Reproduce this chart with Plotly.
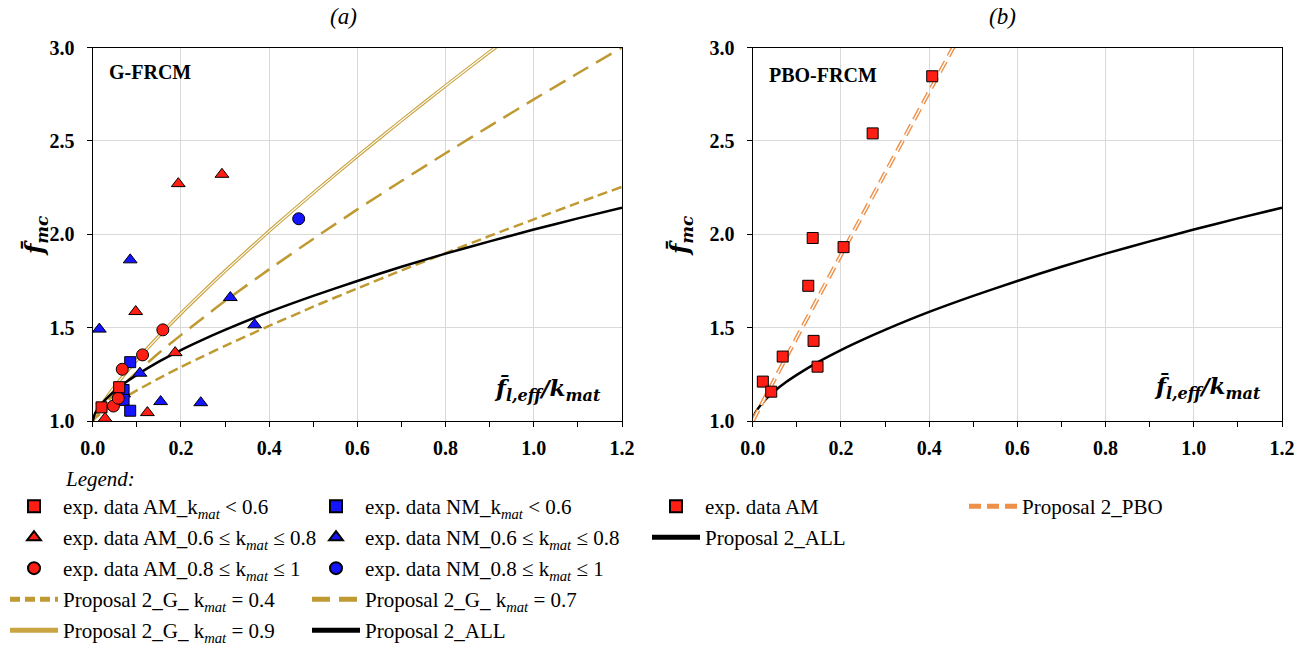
import plotly.graph_objects as go

W, H = 1312, 646

# ---------------- data ----------------
# Panel (a) G-FRCM experimental data
AM_SQ_X = [0.020, 0.060]
AM_SQ_Y = [1.073, 1.181]
AM_TRI_X = [0.194, 0.293, 0.0975, 0.187, 0.124, 0.028]
AM_TRI_Y = [2.271, 2.321, 1.586, 1.366, 1.045, 1.014]
AM_CIR_X = [0.159, 0.113, 0.067, 0.047, 0.058]
AM_CIR_Y = [1.488, 1.354, 1.277, 1.080, 1.122]
NM_SQ_X = [0.085, 0.070, 0.070, 0.085]
NM_SQ_Y = [1.315, 1.166, 1.113, 1.055]
NM_TRI_X = [0.015, 0.085, 0.107, 0.312, 0.367, 0.154, 0.245, 0.070]
NM_TRI_Y = [1.492, 1.863, 1.256, 1.661, 1.515, 1.104, 1.098, 1.145]
NM_CIR_X = [0.467]
NM_CIR_Y = [2.083]

# Model curves
CURVE_X = [0, 0.005, 0.01, 0.02, 0.035, 0.05, 0.075, 0.1, 0.15, 0.2, 0.25, 0.3,
           0.4, 0.5, 0.6, 0.7, 0.8, 0.9, 1.0, 1.1, 1.2]
ALL_Y = [1.0, 1.039, 1.059, 1.091, 1.129, 1.161, 1.207, 1.247, 1.318, 1.380, 1.436,
         1.488, 1.584, 1.670, 1.750, 1.826, 1.896, 1.962, 2.025, 2.085, 2.142]
G04_Y = [1.0, 1.014, 1.025, 1.044, 1.069, 1.093, 1.129, 1.164, 1.228, 1.289, 1.346,
         1.402, 1.509, 1.612, 1.710, 1.806, 1.899, 1.991, 2.080, 2.168, 2.254]
G07_Y = [1.0, 1.022, 1.039, 1.070, 1.110, 1.148, 1.206, 1.261, 1.364, 1.460, 1.552,
         1.642, 1.812, 1.975, 2.133, 2.285, 2.434, 2.579, 2.722, 2.862, 3.000]
G09_Y = [1.0, 1.028, 1.049, 1.087, 1.138, 1.185, 1.258, 1.326, 1.455, 1.576, 1.691,
         1.803, 2.017, 2.221, 2.418, 2.609, 2.795, 2.977, 3.155, 3.330, 3.503]

# Panel (b) PBO-FRCM
PBO_X = [0.023, 0.042, 0.068, 0.126, 0.136, 0.138, 0.147, 0.206, 0.272, 0.407]
PBO_Y = [1.211, 1.157, 1.345, 1.724, 1.980, 1.429, 1.291, 1.931, 2.540, 2.846]
PBO_CURVE_X = [0, 0.05, 0.1, 0.15, 0.2, 0.25, 0.3, 0.35, 0.4, 0.45, 0.5]
PBO_CURVE_Y = [1.0, 1.225, 1.447, 1.668, 1.888, 2.107, 2.326, 2.544, 2.762, 2.980, 3.197]

X_TICKS = [0.0, 0.2, 0.4, 0.6, 0.8, 1.0, 1.2]
Y_TICKS = [1.0, 1.5, 2.0, 2.5, 3.0]

# ---------------- styles ----------------
RED = "#FF1E14"
BLUE = "#1414FF"
GOLD = "#BF9A32"
GOLD2 = "#C9A441"
ORANGE = "#EE9048"
SERIF = "Liberation Serif"
MATH = "DejaVu Serif"
KM = "k<sub><i>mat</i></sub>"


def px_x(p):
    return p / W


def px_y(p):
    return 1 - p / H


fig = go.Figure()


def marker_trace(x, y, sym, color, name, legend, rank, xa="x", ya="y", size=11):
    fig.add_trace(go.Scatter(
        x=x, y=y, mode="markers", name=name, legend=legend, legendrank=rank,
        legendgroup=name + legend, xaxis=xa, yaxis=ya, cliponaxis=False,
        marker=dict(symbol=sym, size=size, color=color, line=dict(color="black", width=1)),
        hoverinfo="skip"))


def line_trace(x, y, color, width, dash, name, legend, rank, xa="x", ya="y", show=True):
    fig.add_trace(go.Scatter(
        x=x, y=y, mode="lines", name=name, legend=legend, legendrank=rank,
        legendgroup=name + legend, showlegend=show, xaxis=xa, yaxis=ya,
        line=dict(color=color, width=width, dash=dash, shape="spline", smoothing=0.6),
        hoverinfo="skip"))


# ---- panel (a) lines ----
line_trace(CURVE_X, G04_Y, GOLD, 2.5, "10px,5px", "Proposal 2_G_ " + KM + " = 0.4", "legend", 4)
line_trace(CURVE_X, G07_Y, GOLD, 2.5, "18px,9px", "Proposal 2_G_ " + KM + " = 0.7", "legend2", 4)
line_trace(CURVE_X, G09_Y, GOLD2, 3.4, "solid", "Proposal 2_G_ " + KM + " = 0.9", "legend", 5)
line_trace(CURVE_X, G09_Y, "white", 1.1, "solid", "g09 inner", "legend", 9, show=False)
line_trace(CURVE_X, ALL_Y, "black", 2.5, "solid", "Proposal 2_ALL", "legend2", 5)

# ---- panel (a) markers ----
marker_trace(NM_TRI_X, NM_TRI_Y, "triangle-up", BLUE, "exp. data NM_0.6 ≤ " + KM + " ≤ 0.8", "legend2", 2, size=12)
marker_trace(NM_SQ_X, NM_SQ_Y, "square", BLUE, "exp. data NM_" + KM + " &lt; 0.6", "legend2", 1)
marker_trace(NM_CIR_X, NM_CIR_Y, "circle", BLUE, "exp. data NM_0.8 ≤ " + KM + " ≤ 1", "legend2", 3, size=12)
marker_trace(AM_CIR_X, AM_CIR_Y, "circle", RED, "exp. data AM_0.8 ≤ " + KM + " ≤ 1", "legend", 3, size=12)
marker_trace(AM_SQ_X, AM_SQ_Y, "square", RED, "exp. data AM_" + KM + " &lt; 0.6", "legend", 1)
marker_trace(AM_TRI_X, AM_TRI_Y, "triangle-up", RED, "exp. data AM_0.6 ≤ " + KM + " ≤ 0.8", "legend", 2, size=12)

# ---- panel (b) ----
line_trace(CURVE_X, ALL_Y, "black", 2.5, "solid", "Proposal 2_ALL", "legend3", 2, xa="x2", ya="y2")
line_trace(PBO_CURVE_X, PBO_CURVE_Y, ORANGE, 4.2, "12px,6px", "Proposal 2_PBO", "legend4", 1, xa="x2", ya="y2")
line_trace(PBO_CURVE_X, PBO_CURVE_Y, "white", 1.4, "12px,6px", "pbo inner", "legend4", 9, xa="x2", ya="y2", show=False)
marker_trace(PBO_X, PBO_Y, "square", RED, "exp. data AM", "legend3", 1, xa="x2", ya="y2")

# ---------------- axes ----------------
ydom = [px_y(421), px_y(47.5)]
tickfont = dict(family=SERIF, size=20, color="black", weight="bold")
xcommon = dict(range=[0, 1.2], tickvals=X_TICKS, ticktext=[f"{v:.1f}" for v in X_TICKS],
               showgrid=True, gridcolor="#D9D9D9", gridwidth=1, zeroline=False,
               showline=True, linecolor="black", linewidth=1.3, mirror=True,
               ticks="outside", ticklen=5, tickcolor="black", tickwidth=1,
               minor=dict(dtick=0.1, ticks="outside", ticklen=5, tickcolor="black", showgrid=False),
               tickfont=tickfont, ticklabelstandoff=4, fixedrange=True, automargin=False)
ycommon = dict(range=[1, 3], tickvals=Y_TICKS, ticktext=[f"{v:.1f}" for v in Y_TICKS],
               showgrid=True, gridcolor="#D9D9D9", gridwidth=1, zeroline=False,
               showline=True, linecolor="black", linewidth=1.3, mirror=True,
               ticks="outside", ticklen=5, tickcolor="black", tickwidth=1,
               tickfont=tickfont, ticklabelstandoff=8, fixedrange=True, automargin=False)

legend_common = dict(orientation="v", xanchor="left", yanchor="top",
                     font=dict(family=SERIF, size=21, color="black"),
                     bgcolor="rgba(0,0,0,0)", itemsizing="constant", tracegroupgap=0.7,
                     itemwidth=48, traceorder="grouped", itemclick=False, itemdoubleclick=False)

ann = []


def add_ann(text, x, y, size, xanchor="center", yanchor="middle", family=SERIF, angle=0):
    ann.append(dict(text=text, x=px_x(x), y=px_y(y), xref="paper", yref="paper",
                    xanchor=xanchor, yanchor=yanchor, showarrow=False, textangle=angle,
                    font=dict(family=family, size=size, color="black")))


add_ann("<i>(a)</i>", 343, 17, 23)
add_ann("<i>(b)</i>", 1002, 17, 23)
add_ann("<b>G-FRCM</b>", 107, 72, 20, xanchor="left")
add_ann("<b>PBO-FRCM</b>", 767, 75, 20, xanchor="left")
add_ann("<b><i>f\u0304<sub>l,eff</sub>/k<sub>mat</sub></i></b>", 603, 389, 23, xanchor="right", family=MATH)
add_ann("<b><i>f\u0304<sub>l,eff</sub>/k<sub>mat</sub></i></b>", 1263, 387, 23, xanchor="right", family=MATH)
add_ann("<b><i>f\u0304<sub>mc</sub></i></b>", 36, 236, 24, family=MATH, angle=-90)
add_ann("<b><i>f\u0304<sub>mc</sub></i></b>", 681, 236, 24, family=MATH, angle=-90)
add_ann("<i>Legend:</i>", 63, 479, 21, xanchor="left")

fig.update_layout(
    width=W, height=H, margin=dict(l=0, r=0, t=0, b=0, autoexpand=False),
    paper_bgcolor="white", plot_bgcolor="white",
    xaxis=dict(domain=[px_x(92.7), px_x(622)], anchor="y", **xcommon),
    yaxis=dict(domain=ydom, anchor="x", **ycommon),
    xaxis2=dict(domain=[px_x(752.7), px_x(1282)], anchor="y2", **xcommon),
    yaxis2=dict(domain=ydom, anchor="x2", **ycommon),
    legend=dict(x=px_x(5), y=px_y(486), **legend_common),
    legend2=dict(x=px_x(307), y=px_y(486), **legend_common),
    legend3=dict(x=px_x(647), y=px_y(486), **legend_common),
    legend4=dict(x=px_x(964), y=px_y(486), **legend_common),
    annotations=ann,
    hovermode=False,
)

fig.write_html("out.html")
